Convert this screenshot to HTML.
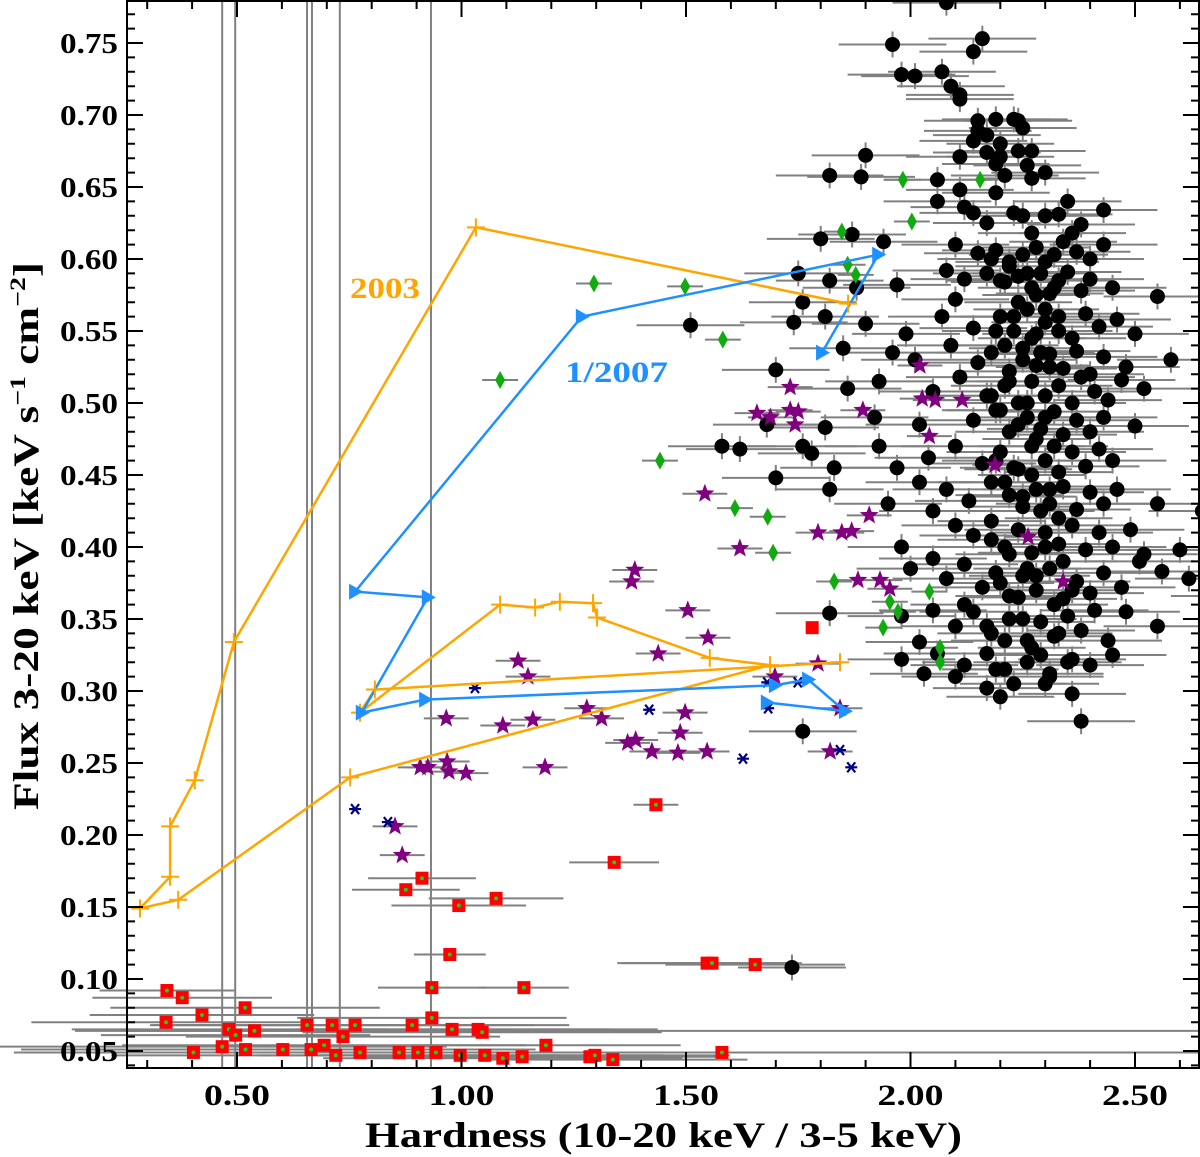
<!DOCTYPE html>
<html><head><meta charset="utf-8">
<style>
html,body{margin:0;padding:0;background:#fff;}
svg{display:block;font-family:"Liberation Serif",serif;font-weight:bold;}
</style></head>
<body>
<svg id="chart" width="1200" height="1157" viewBox="0 0 1200 1157" xmlns="http://www.w3.org/2000/svg">
<g id="errs"></g>
<g id="marks"></g>
<g id="lines"></g>
<g id="axes"></g>
<text x="350" y="298" fill="#ffa500" font-size="30" textLength="70" lengthAdjust="spacingAndGlyphs">2003</text>
<text x="565" y="382" fill="#1e90ff" font-size="30" textLength="103" lengthAdjust="spacingAndGlyphs">1/2007</text>
<text x="365" y="1147" font-size="36" textLength="597" lengthAdjust="spacingAndGlyphs">Hardness (10-20 keV / 3-5 keV)</text>
<text transform="translate(38,810) rotate(-90)" font-size="36" textLength="548" lengthAdjust="spacingAndGlyphs">Flux 3-20 keV [keV s<tspan dy="-13" font-size="22">−1</tspan><tspan dy="13"> cm</tspan><tspan dy="-13" font-size="22">−2</tspan><tspan dy="13">]</tspan></text>
</svg>
<script>
const xTicks=[0.5,1.0,1.5,2.0,2.5];
const xTickLabels=["0.50","1.00","1.50","2.00","2.50"];
const yTicks=[0.05,0.10,0.15,0.20,0.25,0.30,0.35,0.40,0.45,0.50,0.55,0.60,0.65,0.70,0.75];
const yTickLabels=["0.05","0.10","0.15","0.20","0.25","0.30","0.35","0.40","0.45","0.50","0.55","0.60","0.65","0.70","0.75"];
const vLinesX=[0.467,0.496,0.656,0.667,0.729,0.932];
const hLinesY=[0.064,0.049];
const orangeMainX=[0.284,0.351,0.351,0.406,0.493,1.032,1.861];
const orangeMainY=[0.149,0.171,0.206,0.238,0.334,0.622,0.569];
const orangeLoopX=[0.284,0.369,0.752,1.687,1.553,1.302,1.293,1.219,1.164,1.086,0.774,0.807,1.843];
const orangeLoopY=[0.149,0.155,0.240,0.318,0.323,0.351,0.361,0.362,0.358,0.360,0.285,0.301,0.320];
const blueX=[1.803,1.928,1.268,0.763,0.925,0.778,0.919,1.698,1.772,1.854,1.680];
const blueY=[0.535,0.603,0.560,0.369,0.365,0.285,0.294,0.304,0.308,0.286,0.292];
const redX=[0.344,0.378,0.422,0.342,0.518,0.482,0.497,0.467,0.539,0.519,0.403,0.602,0.656,0.665,0.712,0.736,0.763,0.720,0.694,0.774,0.890,0.934,0.979,1.037,1.046,0.861,0.903,0.943,0.997,1.052,1.092,1.135,1.188,1.286,1.337,1.580,0.876,0.912,0.994,1.077,0.974,0.934,1.139,1.340,1.433,1.547,1.558,1.654,1.297];
const redY=[0.092,0.087,0.075,0.070,0.080,0.065,0.061,0.053,0.064,0.051,0.049,0.051,0.068,0.051,0.068,0.060,0.068,0.047,0.054,0.049,0.068,0.073,0.065,0.065,0.063,0.049,0.049,0.049,0.047,0.047,0.045,0.046,0.054,0.046,0.044,0.049,0.162,0.170,0.151,0.156,0.117,0.094,0.094,0.181,0.221,0.111,0.111,0.110,0.047];
const redXerr=[0.15,0.2,0.25,0.3,0.3,0.35,0.3,0.5,0.4,0.5,0.4,0.45,0.35,0.5,0.4,0.35,0.4,0.5,0.45,0.5,0.35,0.3,0.35,0.4,0.4,0.45,0.45,0.4,0.45,0.4,0.4,0.35,0.3,0.3,0.3,0.35,0.12,0.12,0.15,0.15,0.08,0.12,0.1,0.1,0.05,0.2,0.2,0.2,0.3];
const redPlainX=[1.781];
const redPlainY=[0.344];
const purpleX=[1.732,1.658,1.688,1.732,1.750,1.743,1.894,2.021,2.026,2.055,2.115,2.042,1.542,1.620,1.386,1.379,1.504,1.549,1.438,1.698,1.794,1.126,1.148,1.279,1.312,1.370,1.388,1.424,1.482,1.487,1.498,1.547,0.966,1.159,1.092,0.908,0.925,0.968,0.972,1.010,1.186,1.843,1.821,1.847,1.794,1.869,1.908,1.883,1.932,1.954,2.188,2.262,2.340,0.852,0.868];
const purpleY=[0.511,0.493,0.490,0.495,0.494,0.485,0.495,0.526,0.503,0.502,0.502,0.477,0.437,0.399,0.384,0.376,0.356,0.337,0.326,0.310,0.319,0.321,0.310,0.288,0.281,0.264,0.266,0.258,0.257,0.271,0.285,0.258,0.281,0.280,0.276,0.247,0.247,0.251,0.244,0.243,0.247,0.288,0.258,0.410,0.410,0.411,0.422,0.377,0.377,0.371,0.457,0.407,0.376,0.206,0.186];
const greenX=[1.086,1.295,1.498,1.582,1.442,1.609,1.682,1.694,1.830,1.847,1.860,1.878,1.983,2.155,2.003,1.954,1.972,1.939,2.042,2.066,2.066];
const greenY=[0.516,0.583,0.581,0.544,0.460,0.427,0.421,0.396,0.376,0.619,0.596,0.589,0.655,0.655,0.626,0.362,0.355,0.344,0.369,0.330,0.320];
const navyX=[1.030,1.418,1.683,1.749,1.627,1.843,1.868,0.763,0.836,1.681];
const navyY=[0.302,0.287,0.288,0.306,0.253,0.259,0.247,0.218,0.209,0.306];
const blackX=[2.08,1.96,2.14,2.16,1.98,2.01,2.07,2.09,2.11,2.11,2.15,2.15,2.19,2.23,2.24,2.25,2.17,2.14,1.90,2.20,2.26,2.24,2.11,2.17,2.20,2.27,2.19,2.06,1.82,1.89,2.21,2.27,2.11,2.19,2.30,2.35,2.06,2.12,2.14,2.23,2.25,2.30,2.33,2.43,2.38,2.17,2.27,2.36,
1.80,1.87,1.94,2.10,2.15,2.19,2.22,2.25,2.28,2.30,2.32,2.34,2.37,2.40,2.43,1.75,2.08,
1.82,1.88,1.97,2.12,2.17,2.21,2.24,2.27,2.29,2.31,2.33,2.35,2.38,2.40,2.45,2.55,1.74,1.76,2.10,
1.51,1.81,1.90,1.99,2.07,2.14,2.20,2.23,2.26,2.28,2.30,2.33,2.36,2.39,2.42,2.46,2.50,
1.85,1.96,2.01,2.09,2.15,2.18,2.22,2.25,2.28,2.31,2.34,2.37,2.40,2.43,2.48,2.58,1.70,
1.86,1.93,2.05,2.11,2.17,2.21,2.24,2.27,2.30,2.33,2.36,2.38,2.41,2.44,2.52,2.47,
1.68,1.76,1.81,1.92,2.02,2.14,2.19,2.22,2.26,2.29,2.32,2.34,2.37,2.40,2.43,2.50,
1.58,1.62,1.78,1.83,1.93,1.97,2.04,2.10,2.16,2.20,2.24,2.27,2.30,2.33,2.36,2.39,2.42,2.45,1.82,1.70,
2.02,2.08,2.13,2.18,2.22,2.25,2.28,2.31,2.34,2.37,2.40,2.43,2.46,2.55,2.65,1.95,2.05,
2.10,2.14,2.18,2.21,2.24,2.27,2.30,2.33,2.36,2.39,2.42,2.45,2.49,2.52,2.60,2.74,1.98,2.05,
2.00,2.08,2.12,2.16,2.19,2.22,2.25,2.28,2.31,2.34,2.37,2.40,2.43,2.47,2.51,2.56,2.62,2.70,2.80,2.12,
1.98,2.05,2.10,2.14,2.18,2.22,2.26,2.29,2.32,2.35,2.38,2.41,2.44,2.48,2.55,1.82,2.02,
1.98,2.06,2.12,2.17,2.21,2.26,2.31,2.36,2.40,2.03,2.17,2.30,2.36,2.38,1.76,2.10,2.45,2.20,1.736,
2.18,2.20,2.22,2.24,2.26,2.28,2.30,2.32,2.19,2.21,2.23,2.25,2.27,2.29,2.31,2.33,2.18,2.20,2.22,2.24,2.26,2.28,2.30,2.32,2.19,2.21,2.23,2.25,2.27,2.29,2.31,2.33,2.18,2.22,2.26,2.30,2.34,2.20,2.24,2.28,2.32,2.36,2.17,2.21,2.25,2.29,2.33,2.19,2.23,2.27,2.31,2.35];
const blackY=[0.778,0.749,0.744,0.753,0.728,0.727,0.730,0.720,0.714,0.711,0.696,0.689,0.697,0.697,0.696,0.691,0.686,0.682,0.672,0.680,0.665,0.675,0.671,0.674,0.671,0.675,0.666,0.655,0.658,0.657,0.658,0.656,0.648,0.646,0.660,0.640,0.640,0.636,0.632,0.632,0.630,0.630,0.631,0.634,0.624,0.625,0.618,0.618,
0.614,0.617,0.612,0.610,0.604,0.606,0.598,0.603,0.608,0.598,0.603,0.612,0.605,0.600,0.610,0.590,0.592,
0.585,0.580,0.582,0.586,0.590,0.584,0.588,0.580,0.590,0.576,0.585,0.591,0.578,0.586,0.580,0.574,0.556,0.570,0.572,
0.554,0.560,0.555,0.548,0.560,0.552,0.560,0.550,0.565,0.548,0.556,0.560,0.545,0.562,0.553,0.558,0.548,
0.538,0.535,0.530,0.540,0.528,0.535,0.522,0.538,0.526,0.534,0.524,0.536,0.520,0.532,0.525,0.530,0.523,
0.510,0.515,0.508,0.518,0.505,0.512,0.500,0.515,0.505,0.512,0.500,0.518,0.508,0.502,0.510,0.516,
0.485,0.470,0.483,0.490,0.485,0.488,0.495,0.480,0.490,0.482,0.494,0.478,0.488,0.480,0.490,0.484,
0.470,0.468,0.465,0.455,0.470,0.455,0.462,0.470,0.458,0.466,0.454,0.470,0.460,0.452,0.466,0.456,0.468,0.460,0.440,0.448,
0.445,0.440,0.432,0.445,0.436,0.428,0.440,0.430,0.442,0.426,0.438,0.430,0.440,0.430,0.425,0.430,0.425,
0.415,0.408,0.418,0.400,0.412,0.396,0.410,0.402,0.415,0.398,0.410,0.400,0.412,0.395,0.398,0.398,0.400,0.392,
0.385,0.378,0.388,0.372,0.382,0.366,0.380,0.370,0.385,0.364,0.376,0.368,0.382,0.372,0.390,0.383,0.378,0.366,0.340,0.360,
0.352,0.356,0.345,0.355,0.340,0.350,0.335,0.348,0.338,0.352,0.342,0.356,0.335,0.355,0.345,0.354,0.334,
0.322,0.326,0.318,0.326,0.315,0.320,0.312,0.322,0.318,0.312,0.302,0.305,0.298,0.279,0.272,0.310,0.325,0.296,0.108,
0.600,0.585,0.595,0.570,0.590,0.575,0.565,0.580,0.550,0.540,0.560,0.530,0.545,0.535,0.525,0.550,0.505,0.495,0.515,0.485,0.500,0.475,0.490,0.470,0.460,0.445,0.455,0.435,0.450,0.425,0.440,0.420,0.405,0.395,0.385,0.400,0.390,0.375,0.365,0.380,0.360,0.370,0.345,0.335,0.350,0.325,0.340,0.315,0.305,0.330,0.310,0.320];

const NS="http://www.w3.org/2000/svg";
const X=v=>237+(v-0.5)*449;
const Y=v=>1051-(v-0.05)*1440;
function mk(tag,parent,attrs){const e=document.createElementNS(NS,tag);for(const k in attrs)e.setAttribute(k,attrs[k]);document.getElementById(parent).appendChild(e);return e;}
const GRAY="#808080";
for(let i=0;i<blackX.length;i++){
  const e=mk('line','errs',{x1:X(blackX[i]-0.12),x2:X(blackX[i]+0.12),y1:Y(blackY[i]),y2:Y(blackY[i]),stroke:GRAY,'stroke-width':2});
  
  
  const f=mk('line','errs',{x1:X(blackX[i]),x2:X(blackX[i]),y1:Y(blackY[i]+0.009),y2:Y(blackY[i]-0.009),stroke:GRAY,'stroke-width':2});
  
  
}
for(let i=0;i<redX.length;i++){
  const e=mk('line','errs',{x1:X(redX[i]-redXerr[i]),x2:X(redX[i]+redXerr[i]),y1:Y(redY[i]),y2:Y(redY[i]),stroke:GRAY,'stroke-width':2});
  
  
}
for(let i=0;i<purpleX.length;i++){
  const e=mk('line','errs',{x1:X(purpleX[i]-0.05),x2:X(purpleX[i]+0.05),y1:Y(purpleY[i]),y2:Y(purpleY[i]),stroke:GRAY,'stroke-width':2});
  
  
}
for(let i=0;i<greenX.length;i++){
  const e=mk('line','errs',{x1:X(greenX[i]-0.04),x2:X(greenX[i]+0.04),y1:Y(greenY[i]),y2:Y(greenY[i]),stroke:GRAY,'stroke-width':2});
  
  
}
for(const v of vLinesX){
  const e=mk('line','errs',{x1:X(v),x2:X(v),y1:0,y2:1068,stroke:GRAY,'stroke-width':2});
  
  
}
for(const v of hLinesY){
  const e=mk('line','errs',{x1:127,x2:1200,y1:Y(v),y2:Y(v),stroke:GRAY,'stroke-width':2});
  
  
}
for(let i=0;i<blackX.length;i++){
  const e=mk('circle','marks',{cx:X(blackX[i]),cy:Y(blackY[i]),r:7.5,fill:'#000'});
  
  
}
for(let i=0;i<redX.length;i++){
  const x=X(redX[i]),y=Y(redY[i]);
  const e=mk('rect','marks',{x:x-6.5,y:y-6.5,width:13,height:13,fill:'#ff0000'});
  
  
  const d=mk('circle','marks',{cx:x,cy:y,r:2,fill:'#22cc22'});
  
  
}
for(let i=0;i<redPlainX.length;i++){
  const e=mk('rect','marks',{x:X(redPlainX[i])-6.5,y:Y(redPlainY[i])-6.5,width:13,height:13,fill:'#ff0000'});
  
  
}
function starPts(cx,cy,R,r){let p=[];for(let k=0;k<10;k++){const a=-Math.PI/2+k*Math.PI/5;const rr=k%2?r:R;p.push((cx+rr*Math.cos(a)).toFixed(1)+','+(cy+rr*Math.sin(a)).toFixed(1));}return p.join(' ');}
for(let i=0;i<purpleX.length;i++){
  const e=mk('polygon','marks',{points:starPts(X(purpleX[i]),Y(purpleY[i]),10,4.2),fill:'#800080'});
  
  
}
for(let i=0;i<greenX.length;i++){
  const x=X(greenX[i]),y=Y(greenY[i]);
  const e=mk('polygon','marks',{points:`${x},${y-9} ${x+5},${y} ${x},${y+9} ${x-5},${y}`,fill:'#11aa11'});
  
  
}
for(let i=0;i<navyX.length;i++){
  const x=X(navyX[i]),y=Y(navyY[i]);
  const e=mk('path','marks',{d:`M${x-6},${y} H${x+6} M${x-4},${y-5} L${x+4},${y+5} M${x+4},${y-5} L${x-4},${y+5}`,stroke:'#000080','stroke-width':2.2,fill:'none'});
  
  
}
function poly(xs,ys,color,name){
  const p=xs.map((v,i)=>X(v).toFixed(1)+','+Y(ys[i]).toFixed(1)).join(' ');
  const e=mk('polyline','lines',{points:p,fill:'none',stroke:color,'stroke-width':2.5});
  
  
}
poly(orangeMainX,orangeMainY,'#ffa500','orange-2003-track');
poly(orangeLoopX,orangeLoopY,'#ffa500','orange-2003-loop');
poly(blueX,blueY,'#1e90ff','blue-2007-track');
const oX=orangeMainX.concat(orangeLoopX), oY=orangeMainY.concat(orangeLoopY);
for(let i=0;i<oX.length;i++){
  const x=X(oX[i]),y=Y(oY[i]);
  const e=mk('path','lines',{d:`M${x-9},${y} H${x+9} M${x},${y-9} V${y+9}`,stroke:'#ffa500','stroke-width':2});
  
  
}
for(let i=0;i<blueX.length;i++){
  const x=X(blueX[i]),y=Y(blueY[i]);
  const e=mk('polygon','lines',{points:`${x-6},${y-8} ${x+8},${y} ${x-6},${y+8}`,fill:'#1e90ff'});
  
  
}
const fr=mk('rect','axes',{x:127,y:1,width:1072,height:1067,fill:'none',stroke:'#000','stroke-width':2});


for(let v=0.3;v<=2.65;v+=0.1){
  const x=X(v);const major=xTicks.some(t=>Math.abs(t-v)<1e-6);const L=major?16:8;
  const a=mk('path','axes',{d:`M${x},1068 V${1068-L} M${x},1 V${1+L}`,stroke:'#000','stroke-width':2});
  
  
}
xTicks.forEach((v,i)=>{
  const t=mk('text','axes',{x:X(v)-33,y:1105,'font-size':30,textLength:66,lengthAdjust:'spacingAndGlyphs'});
  t.textContent=xTickLabels[i];
  
  
});
for(let v=0.04;v<=0.78;v+=0.01){
  const y=Y(v);const major=yTicks.some(t=>Math.abs(t-v)<1e-6);const L=major?16:8;
  const a=mk('path','axes',{d:`M127,${y} H${127+L} M1199,${y} H${1199-L}`,stroke:'#000','stroke-width':2});
  
  
}
yTicks.forEach((v,i)=>{
  const t=mk('text','axes',{x:60,y:Y(v)+10,'font-size':29,textLength:58,lengthAdjust:'spacingAndGlyphs'});
  t.textContent=yTickLabels[i];
  
  
});
</script>
</body></html>
